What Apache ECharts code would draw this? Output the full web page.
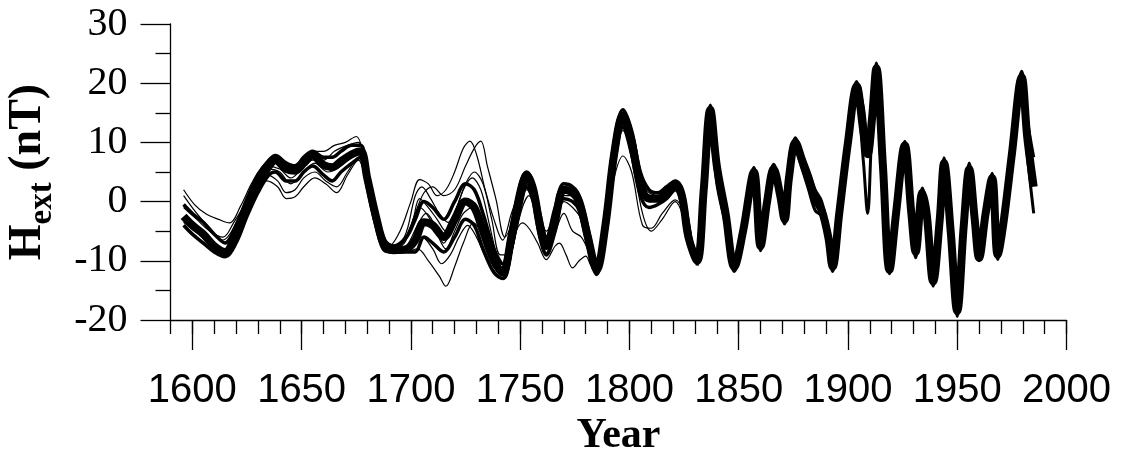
<!DOCTYPE html>
<html>
<head>
<meta charset="utf-8">
<script src="https://cdn.jsdelivr.net/npm/echarts@6/dist/echarts.min.js"></script>
<style>
html,body{margin:0;padding:0;background:#fff;}
#c{width:1125px;height:455px;}
</style>
</head>
<body>
<div id="c"></div>
<script>
// ---- data (year, Hext in nT) ----
const coreYears = [1596,1600,1605,1610,1615,1620,1625,1630,1635,1638,1643,1647,1651,1655,1660,1664,1668,1673,1677,1680,1684,1688,1692,1698,1702,1706,1710,1715,1720,1725,1729,1733,1738,1742,1746,1750,1753,1756,1759,1762,1766,1770,1774,1777,1781,1785,1789,1793,1797,1801,1805,1809,1813,1817,1821,1824,1827,1831,1834,1837,1840,1844,1848,1852,1857,1860,1863,1866,1869,1871,1873,1876,1879,1882,1885,1888,1891,1893,1896,1900,1904,1907,1909,1911,1913,1916,1919,1922,1926,1929,1931,1934,1936,1939,1942,1944,1947,1950,1953,1955.5,1958,1960,1963,1966,1968.5,1971,1975,1979.5,1982,1985];
const coreH = [-2.5,-4,-5.5,-7.5,-8.5,-5.5,-1,3,6,7,5.5,5.2,6.5,7.8,6.2,5.8,6.8,8,8.5,4,-2.5,-7.5,-8.2,-8,-6.5,-3.5,-4,-6,-3,0,-1,-5,-10,-12,-6,1,4.5,2,-4,-7.5,-3,2,1.5,0,-6,-11.5,-4,8,14.5,10,3,0.5,0.5,1.5,3,1,-6,-10,2,15.5,6,-2,-11,-5,5,-7.5,0,5.5,1,-3,4,10,7,4,0.5,-1.5,-6,-11,-2,10,19.5,12,8,14,22.5,6,-11.5,-2,9.5,-2,-8.5,1.5,-2,-13.5,-3,6.5,-5,-18.5,-4,5.5,-3,-9.5,-2,4,-9,-4,8,21,11,2.5];

const bandYears = [1596,1600,1605,1610,1615,1620,1625,1630,1635,1638,1643,1647,1651,1655,1660,1664,1668,1673,1677,1680,1684,1688,1692,1698,1702,1706,1710,1715,1720,1725,1729,1733,1738,1742,1746,1750,1753,1756,1759,1762,1766,1770,1774,1777,1781,1785,1789,1793,1797,1801,1805,1809,1813,1817,1821,1824,1827,1831];
const bandHiH = [-0.5,-2,-3.5,-5.5,-7,-4,0.5,4.5,7,7.8,6.5,6,7.5,8.5,7.5,7.5,8.5,9.5,9.5,5,-1.5,-6.5,-7.5,-6,-3,0,-1,-3,0,3,2,-2,-8,-10.5,-4,3,5,3,-2,-6,-1,3,2.5,1,-4.5,-10.5,-2,10,15.5,12,5,2,1.5,2.5,3.5,2,-5,-9.5];
const bandLoH = [-4,-5.5,-7,-8.5,-9.3,-7,-2.5,1.5,4.5,5,3.5,3.5,5,6,4.5,3.5,5,6.5,7.5,2.5,-4,-8.3,-8.5,-8.5,-8.5,-6,-7,-8.5,-6,-3,-4,-8,-12,-13,-8,-1,2.5,0,-6,-9,-5,0.5,0,-1.5,-7.5,-12.3,-6,6,12.5,8,1,-1,-0.5,0.5,2,-0.5,-7,-10.5];

const thinAYears = [1596,1601,1606,1612,1617,1622,1627,1631,1636,1640,1645,1650,1655,1660,1665,1670,1675,1678,1682,1686,1690,1695,1700,1704,1708,1712,1716,1720,1724,1727,1730,1734,1738,1742,1746,1750,1753,1757,1762,1766,1770,1775,1779,1784,1788,1792,1797,1802,1806,1810,1816,1821,1825,1830];
const thinAH = [2,-0.5,-2,-3,-3.6,-0.8,3,5.4,7,7,6,7,8.5,8.5,9.5,10,11,8.5,1,-5,-7.5,-5,0,3.7,3,1,2,5,9,10.2,8,2,-3,-6.5,-2,2,4,1,-6,-2,2,1.5,-1,-11,-4,8,15,11,3,1,1.5,3.3,1,-10];

const thinBYears = [1596,1602,1608,1614,1618,1623,1628,1634,1640,1645,1650,1655,1660,1665,1671,1676,1679,1683,1688,1693,1698,1702,1706,1710,1715,1720,1725,1729,1732,1735,1739,1743,1747,1751,1754,1758,1762,1766,1770,1775,1780,1785,1789,1793,1797,1801,1805,1809,1815,1821,1825,1830];
const thinBH = [1,-2,-4.5,-6.5,-5,-1,3,6,5.5,4,5.5,7,7,8.5,9.5,10,6,-1,-7,-8,-6,-2,1.5,2.5,1,2,6,9,10.2,6,0.3,-6,-3,2,3,-1,-5,-2,1,1,-3,-10.5,-3,9,14,10.5,4,1.5,1,3,0,-9.5];

const thinCYears = [1596,1602,1608,1614,1619,1624,1629,1634,1639,1643,1647,1651,1656,1661,1666,1671,1676,1679,1683,1688,1693,1698,1703,1707,1711,1715,1720,1725,1729,1734,1739,1743,1747,1751,1754,1758,1762,1766,1768,1771,1774,1777,1780,1783,1786,1790,1793,1797,1801,1806,1810,1815,1821,1825,1830];
const thinCH = [-1,-3,-5,-6,-3.5,-0.5,2,3.5,2.5,0.5,0.8,2.5,4,3,1.5,4.5,7,4,-3,-7.5,-8.5,-7.5,-4,-2,-4,-7,-3,0,-2,-7,-11,-11.5,-6,-3.6,-4.5,-7,-9.8,-7.5,-7,-9,-11.2,-10,-9.2,-11,-10,-3,4,7.7,5,-4,-4.5,-2,0.3,-2,-9.5];

const thinDYears = [1596,1602,1608,1614,1619,1624,1629,1634,1639,1643,1647,1651,1656,1661,1666,1671,1676,1679,1683,1688,1693,1698,1703,1708,1713,1716,1720,1724,1728.6,1732,1736,1741,1745,1750,1753,1757,1762,1766,1770,1774,1778,1782,1785,1789,1793,1797,1801,1806,1810,1815,1821,1825,1830];
const thinDH = [-3,-4.5,-7,-8.5,-6.5,-2,2,4.5,3.5,1.5,2,4,5,3.5,2.5,5,7.5,4,-3,-8,-8.5,-8.5,-8,-10,-12.6,-14.3,-11,-7,-3.6,-5,-9,-11.5,-7,0,2,-1,-8,-4,0,-1,-3,-8,-11.5,-4,7,12,8,-2,-5,-3,0,-3,-10];

const thinEYears = [1596,1605,1615,1625,1635,1640,1645,1650,1656,1662,1668,1673,1677,1681,1686,1691,1697,1701,1704,1708,1712,1716,1720,1724,1728,1732,1736,1740,1743,1747,1751,1754,1758,1762,1766,1770,1775,1779,1785,1790,1794,1797,1802,1806,1810,1815,1821,1825,1830];
const thinEH = [-3.5,-6,-8,-1.5,5.5,5,3,4.5,6.5,5,6,7.5,8,1,-6,-8,-7,-3,0.5,-1,-3,-5,-2,2,4,2,-4,-10,-12,-5,3,4.5,0,-8.6,-4,2.5,2,-1,-12,-1,11,14.5,9,2,0,1,2.5,0,-10];

const thinFYears = [1690,1695,1700,1705,1710,1714,1718,1722,1726,1730,1735,1740,1743,1747,1751,1754,1758,1762,1766,1770,1774,1778,1782,1785,1789];
const thinFH = [-8,-8.5,-7.5,-6,-8,-10.5,-9,-6,-4,-6,-10,-12.5,-13,-7,-1,1,-3,-7,-5,-2,-5,-6,-9,-12,-5];

const thinGYears = [1690,1696,1700,1704,1708,1712,1716,1720,1724,1728,1732,1737,1742,1746,1750];
const thinGH = [-8,-7,-4,-1,-2.5,-5.5,-8,-5,-2,-1,-4,-9,-12.5,-7,0];

const thinHYears = [1690,1697,1702,1705,1709,1713,1717,1721,1725,1729,1733,1737,1741,1745,1749];
const thinHH = [-8,-6,1,2.5,0.5,-2,-3.5,-1,3,5,3,-3,-9,-9,-2];

const lateYears = [1831,1834,1837,1840,1844,1848,1852,1857,1860,1863,1866,1869,1871,1873,1876,1879,1882,1885,1888,1891,1893,1896,1900,1904,1907,1909,1911,1913,1916,1919,1922,1926,1929,1931,1934,1936,1939,1942,1944,1947,1950,1953,1955.5,1958,1960,1963,1966,1968.5,1971,1975,1979.5,1982,1985];
const lateHiH = [-9.5,3,16.3,8,-1,-10.5,-4,5.8,-7,1,6.3,2,-2.5,5,10.8,8,5,2,0,-5,-10.5,-1,11,20.3,16,10,17,23.4,8,-11,-1,10.2,-1,-7.5,2.3,-1,-12.5,-2,7.4,-4,-17,-3,6.5,-2,-8.5,-1,4.8,-8,-3,9,22,14,7.5];
const lateLoH = [-10.8,0,13,3,-4,-11.8,-6,3.5,-8.3,-1.5,4,-0.5,-3.8,2.5,8.5,5.5,2,-1.5,-2.5,-7.5,-11.8,-4,8,17.5,7,-2,12,18,3,-12.2,-3.5,8,-3.5,-9.5,0,-3.5,-14.3,-5,5,-7,-19.4,-6,4,-4.5,-10,-3.5,3,-9.8,-5.5,6.5,18,8,-2];

// ---- chart ----
const zip = (xs, ys) => xs.map((x, i) => [x, ys[i]]);
const majorYears = [1600,1650,1700,1750,1800,1850,1900,1950,2000];

function line(data, w) {
  return { type: 'line', data: data, xAxisIndex: 0, yAxisIndex: 0, showSymbol: false, smooth: 0.35,
           lineStyle: { color: '#000', width: w }, emphasis: { disabled: true }, silent: true, z: 2 };
}

const chart = echarts.init(document.getElementById('c'), null, { renderer: 'canvas' });
chart.setOption({
  animation: false,
  backgroundColor: '#fff',
  grid: { left: 170.5, right: 58.5, top: 24, bottom: 135, containLabel: false, outerBoundsMode: 'none' },
  xAxis: [
    { type: 'value', min: 1590, max: 2000, interval: 10, position: 'bottom',
      axisLine: { show: true, onZero: false, lineStyle: { color: '#000', width: 1.3 } },
      axisTick: { show: true, length: 14, lineStyle: { color: '#000', width: 1.3 } },
      axisLabel: { show: false }, splitLine: { show: false },
      name: 'Year', nameLocation: 'middle', nameGap: 95,
      nameTextStyle: { fontFamily: 'Liberation Serif', fontWeight: 'bold', fontSize: 42, color: '#000' } },
    { type: 'value', min: 1590, max: 2000, position: 'bottom',
      axisLine: { show: false, onZero: false },
      axisTick: { show: true, length: 30, customValues: majorYears, lineStyle: { color: '#000', width: 1.3 } },
      axisLabel: { show: true, customValues: majorYears, margin: 51, formatter: v => String(v),
                   fontFamily: 'Liberation Sans', fontSize: 40, color: '#000' },
      splitLine: { show: false } }
  ],
  yAxis: {
    type: 'value', min: -20, max: 30, interval: 10,
    axisLine: { show: true, onZero: false, lineStyle: { color: '#000', width: 1.3 } },
    axisTick: { show: true, length: 30, lineStyle: { color: '#000', width: 1.3 } },
    minorTick: { show: true, splitNumber: 2, length: 15, lineStyle: { color: '#000', width: 1.3 } },
    axisLabel: { margin: 43, fontFamily: 'Liberation Serif', fontSize: 40, color: '#000' },
    splitLine: { show: false }, minorSplitLine: { show: false },
    name: '{h|H}{s|ext}{h| (nT)}', nameLocation: 'middle', nameRotate: 90, nameGap: 112,
    nameTextStyle: {
      color: '#000',
      rich: {
        h: { fontFamily: 'Liberation Serif', fontWeight: 'bold', fontSize: 46, color: '#000', lineHeight: 46 },
        s: { fontFamily: 'Liberation Serif', fontWeight: 'bold', fontSize: 33, color: '#000', padding: [28, 0, 0, 0] }
      }
    }
  },
  series: [
    line(zip(thinAYears, thinAH), 1.2),
    line(zip(thinBYears, thinBH), 1.2),
    line(zip(thinCYears, thinCH), 1.2),
    line(zip(thinDYears, thinDH), 1.2),
    line(zip(thinEYears, thinEH), 1.2),
    line(zip(thinFYears, thinFH), 1.2),
    line(zip(thinGYears, thinGH), 1.2),
    line(zip(thinHYears, thinHH), 1.2),
    line(zip(bandYears, bandHiH), 3.5),
    line(zip(bandYears, bandLoH), 3.5),
    line(zip(lateYears, lateHiH), 3),
    line(zip(lateYears, lateLoH), 3),
    line(zip(coreYears, coreH), 8)
  ]
});
</script>
</body>
</html>
